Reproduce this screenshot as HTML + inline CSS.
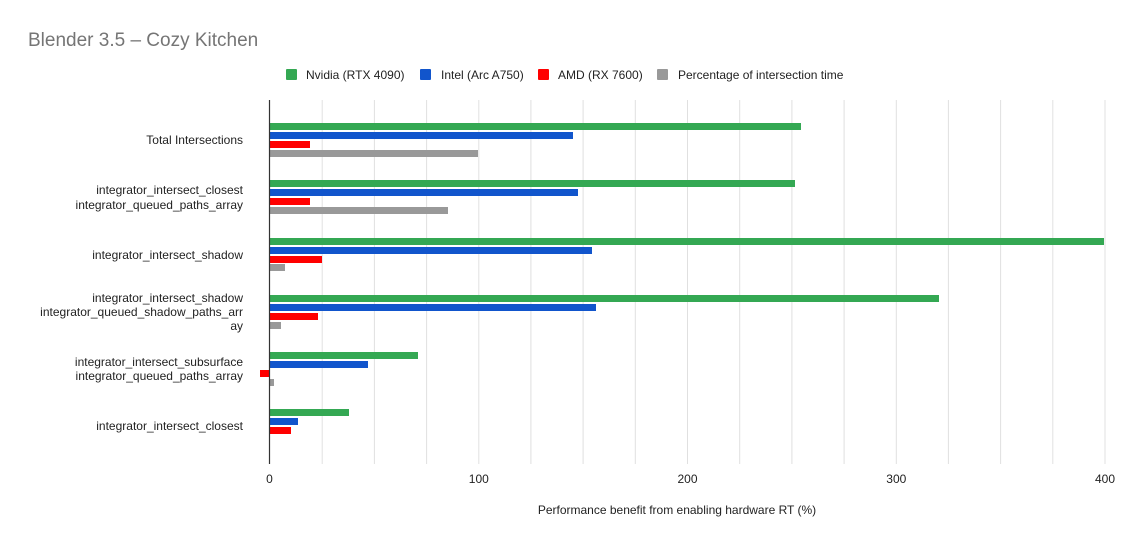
<!DOCTYPE html>
<html><head><meta charset="utf-8"><style>
html,body{margin:0;padding:0;background:#fff}
svg{display:block;font-family:"Liberation Sans",Arial,sans-serif}
</style></head><body>
<svg width="1133" height="544" viewBox="0 0 1133 544" xmlns="http://www.w3.org/2000/svg">
<rect width="1133" height="544" fill="#fff"/>
<text x="28" y="46" font-size="19" fill="#757575">Blender 3.5 – Cozy Kitchen</text>
<g font-size="12" fill="#222">
<rect x="286" y="69" width="11" height="11" rx="1" fill="#34a853"/><text x="306" y="79">Nvidia (RTX 4090)</text>
<rect x="420" y="69" width="11" height="11" rx="1" fill="#1155cc"/><text x="441" y="79">Intel (Arc A750)</text>
<rect x="538" y="69" width="11" height="11" rx="1" fill="#ff0000"/><text x="558" y="79">AMD (RX 7600)</text>
<rect x="657" y="69" width="11" height="11" rx="1" fill="#999999"/><text x="678" y="79">Percentage of intersection time</text>
</g>
<g stroke="#e0e0e0" stroke-width="1">
<line x1="322.2" y1="100" x2="322.2" y2="464"/><line x1="374.4" y1="100" x2="374.4" y2="464"/>
<line x1="426.6" y1="100" x2="426.6" y2="464"/><line x1="478.8" y1="100" x2="478.8" y2="464"/>
<line x1="530.9" y1="100" x2="530.9" y2="464"/><line x1="583.1" y1="100" x2="583.1" y2="464"/>
<line x1="635.3" y1="100" x2="635.3" y2="464"/><line x1="687.5" y1="100" x2="687.5" y2="464"/>
<line x1="739.7" y1="100" x2="739.7" y2="464"/><line x1="791.9" y1="100" x2="791.9" y2="464"/>
<line x1="844.1" y1="100" x2="844.1" y2="464"/><line x1="896.3" y1="100" x2="896.3" y2="464"/>
<line x1="948.4" y1="100" x2="948.4" y2="464"/><line x1="1000.6" y1="100" x2="1000.6" y2="464"/>
<line x1="1052.8" y1="100" x2="1052.8" y2="464"/><line x1="1105" y1="100" x2="1105" y2="464"/>
</g>
<g>
<rect x="270" y="123" width="531" height="7" fill="#34a853"/>
<rect x="270" y="132" width="303" height="7" fill="#1155cc"/>
<rect x="270" y="141" width="40" height="7" fill="#ff0000"/>
<rect x="270" y="150" width="208" height="7" fill="#999"/>
<rect x="270" y="180" width="525" height="7" fill="#34a853"/>
<rect x="270" y="189" width="308" height="7" fill="#1155cc"/>
<rect x="270" y="198" width="40" height="7" fill="#ff0000"/>
<rect x="270" y="207" width="178" height="7" fill="#999"/>
<rect x="270" y="238" width="834" height="7" fill="#34a853"/>
<rect x="270" y="247" width="322" height="7" fill="#1155cc"/>
<rect x="270" y="256" width="52" height="7" fill="#ff0000"/>
<rect x="270" y="264" width="15" height="7" fill="#999"/>
<rect x="270" y="295" width="669" height="7" fill="#34a853"/>
<rect x="270" y="304" width="326" height="7" fill="#1155cc"/>
<rect x="270" y="313" width="48" height="7" fill="#ff0000"/>
<rect x="270" y="322" width="11" height="7" fill="#999"/>
<rect x="270" y="352" width="148" height="7" fill="#34a853"/>
<rect x="270" y="361" width="98" height="7" fill="#1155cc"/>
<rect x="260" y="370" width="9" height="7" fill="#ff0000"/>
<rect x="270" y="379" width="4" height="7" fill="#999"/>
<rect x="270" y="409" width="79" height="7" fill="#34a853"/>
<rect x="270" y="418" width="28" height="7" fill="#1155cc"/>
<rect x="270" y="427" width="21" height="7" fill="#ff0000"/>
</g>
<line x1="269.5" y1="100" x2="269.5" y2="464" stroke="#333" stroke-width="1.2"/>
<g font-size="12" fill="#222" text-anchor="end">
<text x="243" y="144">Total Intersections</text>
<text x="243" y="194">integrator_intersect_closest</text>
<text x="243" y="209">integrator_queued_paths_array</text>
<text x="243" y="259">integrator_intersect_shadow</text>
<text x="243" y="302">integrator_intersect_shadow</text>
<text x="243" y="316">integrator_queued_shadow_paths_arr</text>
<text x="243" y="330">ay</text>
<text x="243" y="366">integrator_intersect_subsurface</text>
<text x="243" y="380">integrator_queued_paths_array</text>
<text x="243" y="430">integrator_intersect_closest</text>
</g>
<g font-size="12" fill="#222" text-anchor="middle">
<text x="269.5" y="483">0</text><text x="478.8" y="483">100</text>
<text x="687.5" y="483">200</text><text x="896.3" y="483">300</text><text x="1105" y="483">400</text>
<text x="677" y="514">Performance benefit from enabling hardware RT (%)</text>
</g>
</svg>
</body></html>
